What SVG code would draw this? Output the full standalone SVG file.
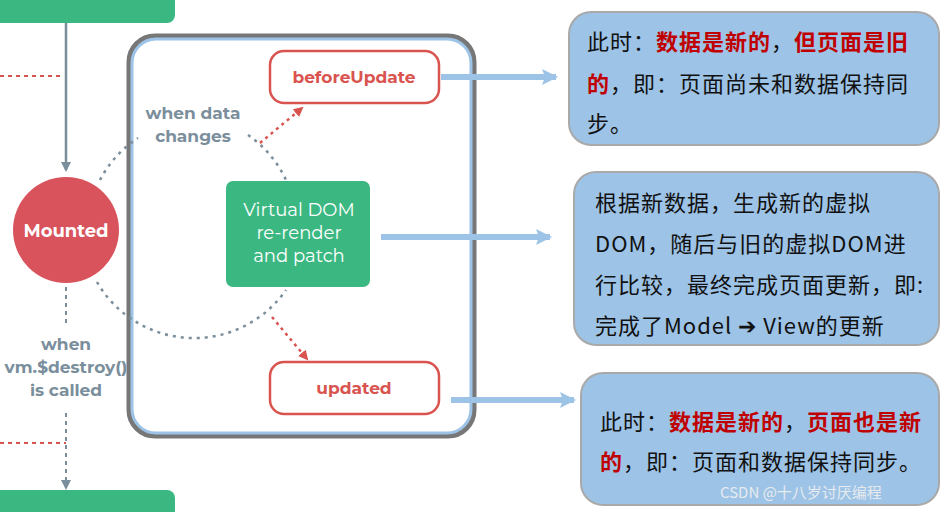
<svg xmlns="http://www.w3.org/2000/svg" width="948" height="512" viewBox="0 0 948 512">
<defs>
<style>
.lbl{font-family:"Montserrat","Noto Sans","Liberation Sans",sans-serif;font-weight:bold}
.cn{font-family:"Noto Sans CJK SC",sans-serif;font-size:22px;letter-spacing:1px;fill:#111}
.r{fill:#c00000;font-weight:bold}
.box{fill:#9dc3e6;stroke:#a9a9a9;stroke-width:2}
</style>
<marker id="ag" markerWidth="10" markerHeight="10" refX="8" refY="5" orient="auto" markerUnits="userSpaceOnUse"><path d="M0,0 L10,5 L0,10 z" fill="#7a8e9c"/></marker>
<marker id="ar" markerWidth="10" markerHeight="10" refX="8" refY="5" orient="auto" markerUnits="userSpaceOnUse"><path d="M0,0 L10,5 L0,10 z" fill="#d9534f"/></marker>
<marker id="ab" markerWidth="16" markerHeight="16" refX="14" refY="8" orient="auto" markerUnits="userSpaceOnUse"><path d="M0,0 L16,8 L0,16 L3,8 z" fill="#9dc3e6"/></marker>
</defs>
<rect width="948" height="512" fill="#fff"/>
<g id="topbar"><rect x="-10" y="-10" width="185" height="33" rx="8" fill="#3bb882"/></g>
<g id="bottombar"><rect x="-10" y="490" width="185" height="40" rx="8" fill="#3bb882"/></g>
<g id="lifecycle-box"><rect x="129" y="36" width="345" height="400" rx="26" fill="#fff" stroke="#777" stroke-width="5"/><rect x="132" y="39" width="339" height="394" rx="24" fill="none" stroke="#9dc3e6" stroke-width="3"/></g>
<g id="connectors" fill="none">
<line x1="66" y1="23" x2="66" y2="170" stroke="#7a8e9c" stroke-width="2.5" marker-end="url(#ag)"/>
<line x1="0" y1="76" x2="64" y2="76" stroke="#d9534f" stroke-width="2" stroke-dasharray="4,4"/>
<line x1="0" y1="443" x2="66" y2="443" stroke="#d9534f" stroke-width="2" stroke-dasharray="4,4"/>
<line x1="66" y1="287" x2="66" y2="325" stroke="#7a8e9c" stroke-width="2" stroke-dasharray="4,4"/>
<line x1="66" y1="413" x2="66" y2="488" stroke="#7a8e9c" stroke-width="2" stroke-dasharray="4,4" marker-end="url(#ag)"/>
<path d="M100,180 A112,112 0 0 1 138,138" stroke="#7a8e9c" stroke-width="2.5" stroke-dasharray="3,5"/>
<path d="M248,135 A112,112 0 0 1 286,180" stroke="#7a8e9c" stroke-width="2.5" stroke-dasharray="3,5"/>
<path d="M97,282 A112,112 0 0 0 286,290" stroke="#7a8e9c" stroke-width="2.5" stroke-dasharray="3,5"/>
<line x1="260" y1="143" x2="302" y2="108" stroke="#d9534f" stroke-width="2.5" stroke-dasharray="3,4" marker-end="url(#ar)"/>
<line x1="272" y1="317" x2="307" y2="359" stroke="#d9534f" stroke-width="2.5" stroke-dasharray="3,4" marker-end="url(#ar)"/>
<line x1="441" y1="77" x2="556" y2="77" stroke="#9dc3e6" stroke-width="6" marker-end="url(#ab)"/>
<line x1="381" y1="237" x2="550" y2="237" stroke="#9dc3e6" stroke-width="6" marker-end="url(#ab)"/>
<line x1="451" y1="400" x2="574" y2="400" stroke="#9dc3e6" stroke-width="6" marker-end="url(#ab)"/>
</g>
<g id="mounted"><circle cx="66" cy="230" r="53" fill="#d9535d"/><text x="66" y="237" text-anchor="middle" class="lbl" font-size="18" fill="#fff">Mounted</text></g>
<g id="destroy-label" class="lbl" font-size="17" fill="#7a8e9c" text-anchor="middle"><text x="66" y="350">when</text><text x="66" y="373">vm.$destroy()</text><text x="66" y="396">is called</text></g>
<g id="data-label" class="lbl" font-size="17" fill="#7a8e9c" text-anchor="middle"><text x="193" y="119">when data</text><text x="193" y="142">changes</text></g>
<g id="beforeUpdate"><rect x="270" y="51" width="169" height="52" rx="14" fill="#fff" stroke="#d9534f" stroke-width="2.5"/><text x="354" y="83" text-anchor="middle" class="lbl" font-size="17" fill="#d9534f">beforeUpdate</text></g>
<g id="updated"><rect x="270" y="362" width="169" height="52" rx="14" fill="#fff" stroke="#d9534f" stroke-width="2.5"/><text x="354" y="394" text-anchor="middle" class="lbl" font-size="17" fill="#d9534f">updated</text></g>
<g id="vdom"><rect x="226" y="181" width="144" height="106" rx="7" fill="#3bb882"/><g font-family="Montserrat,'Noto Sans','Liberation Sans',sans-serif" font-size="18" fill="#fff" text-anchor="middle"><text x="299" y="216">Virtual DOM</text><text x="299" y="239">re-render</text><text x="299" y="262">and patch</text></g></g>
<g id="note1"><rect class="box" x="569" y="12" width="370" height="133" rx="22"/><text class="cn" x="587" y="50">此时：<tspan class="r">数据是新的</tspan>，<tspan class="r">但页面是旧</tspan></text><text class="cn" x="587" y="92"><tspan class="r">的</tspan>，即：页面尚未和数据保持同</text><text class="cn" x="587" y="132">步。</text></g>
<g id="note2"><rect class="box" x="574" y="172" width="365" height="173" rx="22"/><text class="cn" x="595" y="211">根据新数据，生成新的虚拟</text><text class="cn" x="595" y="252">DOM，随后与旧的虚拟DOM进</text><text class="cn" x="595" y="293">行比较，最终完成页面更新，即:</text><text class="cn" x="595" y="334">完成了Model ➔ View的更新</text></g>
<g id="note3"><rect class="box" x="581" y="373" width="358" height="132" rx="22"/><text class="cn" x="600" y="430">此时：<tspan class="r">数据是新的</tspan>，<tspan class="r">页面也是新</tspan></text><text class="cn" x="600" y="470"><tspan class="r">的</tspan>，即：页面和数据保持同步。</text></g>
<text x="720" y="498" font-family="'Noto Sans CJK SC',sans-serif" font-size="15" fill="#f0f0f0" opacity="0.9">CSDN @十八岁讨厌编程</text>
</svg>
